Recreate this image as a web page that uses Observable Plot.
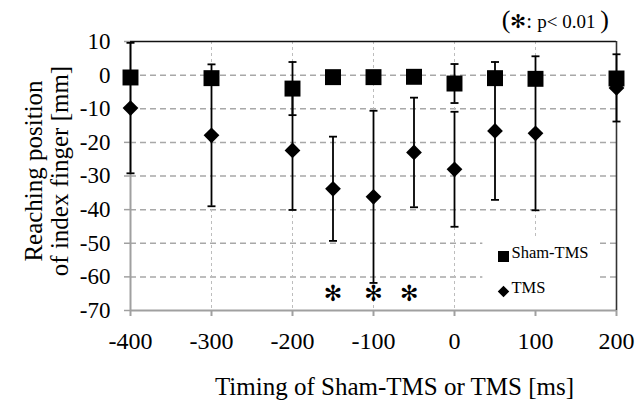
<!DOCTYPE html>
<html>
<head>
<meta charset="utf-8">
<script src="https://cdn.jsdelivr.net/npm/d3@7"></script>
<script src="https://cdn.jsdelivr.net/npm/@observablehq/plot@0.6"></script>
<style>
  html, body { margin: 0; padding: 0; background: #fff; }
  #chart svg { display: block; }
  #chart svg text { font-family: "Liberation Serif", "Times New Roman", Times, serif; }
  #chart svg text.sym, #chart svg tspan.sym { font-family: "DejaVu Sans", sans-serif; }
</style>
</head>
<body>
<div id="chart"></div>
<script>
// ---- data ----
const timing   = [-400, -300, -200, -150, -100, -50, 0, 50, 100, 200];
const shamMean = [-0.7, -0.9, -4.0, -0.6, -0.6, -0.5, -2.5, -0.9, -1.1, -1.0];
const shamSD   = [1.5, 1.5, 7.9, 1.5, 1.5, 1.5, 5.8, 1.5, 1.5, 1.5];
const tmsMean  = [-9.8, -17.9, -22.4, -33.8, -36.2, -23.0, -28.0, -16.6, -17.3, -3.8];
const tmsSD    = [19.4, 21.1, 17.7, 15.5, 25.6, 16.3, 17.1, 20.5, 22.9, 10.0];
const sigTiming = [-150, -100, -56];
const xTicks = [-400, -300, -200, -100, 0, 100, 200];
const yTicks = [10, 0, -10, -20, -30, -40, -50, -60, -70];
const xGrid = [-300, -200, -100, 0, 100];
const yGrid = [0, -10, -20, -30, -40, -50, -60];
const seriesNames = ["Sham-TMS", "TMS"];
const legendBox = [{x1: 35, x2: 180, y1: -70, y2: -48.7}];

const sham = timing.map((t, i) => ({t, m: shamMean[i], lo: shamMean[i] - shamSD[i], hi: shamMean[i] + shamSD[i]}));
const tms  = timing.map((t, i) => ({t, m: tmsMean[i],  lo: tmsMean[i] - tmsSD[i],   hi: tmsMean[i] + tmsSD[i]}));
const bars = [...tms, ...sham];

const cap = {draw(ctx) { ctx.moveTo(-4, 0); ctx.lineTo(4, 0); }};

const plot = Plot.plot({
  width: 644,
  height: 402,
  marginLeft: 130,
  marginRight: 28,
  marginTop: 41,
  marginBottom: 92,
  style: {background: "#fff", color: "#000"},
  x: {domain: [-400, 200]},
  y: {domain: [-70, 10]},
  marks: [
    Plot.ruleY(yGrid, {stroke: "#a8a8a8", strokeWidth: 1.5, strokeDasharray: "6,4"}),
    Plot.ruleX(xGrid, {stroke: "#bdbdbd", strokeWidth: 1, strokeDasharray: "3,3"}),
    Plot.rect(legendBox, {x1: "x1", x2: "x2", y1: "y1", y2: "y2", fill: "#fff"}),
    // frame
    Plot.ruleX([-400], {stroke: "#a0a0a0", strokeWidth: 2}),
    Plot.ruleY([-70], {stroke: "#a0a0a0", strokeWidth: 2}),
    Plot.ruleY([10], {stroke: "#111", strokeWidth: 1.6}),
    Plot.ruleX([200], {stroke: "#333", strokeWidth: 1.6}),
    Plot.axisX({ticks: xTicks, tickFormat: d => String(d), tickSize: 6, tickPadding: 15, stroke: "#a0a0a0", strokeWidth: 2, fontSize: 24, fill: "#000", label: null}),
    Plot.axisY({ticks: yTicks, tickFormat: d => String(d), tickSize: 6, tickPadding: 14, stroke: "#a0a0a0", strokeWidth: 1.5, fontSize: 23, fill: "#000", label: null}),
    // error bars
    Plot.ruleX(bars, {x: "t", y1: "lo", y2: "hi", stroke: "#000", strokeWidth: 1.8}),
    Plot.dot(bars, {x: "t", y: "lo", symbol: cap, stroke: "#000", strokeWidth: 1.8, fill: "none"}),
    Plot.dot(bars, {x: "t", y: "hi", symbol: cap, stroke: "#000", strokeWidth: 1.8, fill: "none"}),
    // markers
    Plot.dot(tms, {x: "t", y: "m", symbol: "diamond2", r: 7.1, fill: "#000", stroke: "none"}),
    Plot.dot(sham, {x: "t", y: "m", symbol: "square", r: 9, fill: "#000", stroke: "none"}),
    // significance
    Plot.text(sigTiming, {x: d => d, frameAnchor: "bottom", dy: -10, text: () => "✻", fontSize: 22, className: "sig", fill: "#000"}),
    // legend
    Plot.text([seriesNames[0]], {frameAnchor: "bottom-right", dx: -105, dy: -53, text: d => d, textAnchor: "start", fontSize: 16.5, fill: "#000"}),
    Plot.text([seriesNames[1]], {frameAnchor: "bottom-right", dx: -105, dy: -18, text: d => d, textAnchor: "start", fontSize: 16.5, fill: "#000"}),
    Plot.dot([seriesNames[0]], {frameAnchor: "bottom-right", dx: -113, dy: -54, symbol: "square", r: 6.2, fill: "#000", stroke: "none"}),
    Plot.dot([seriesNames[1]], {frameAnchor: "bottom-right", dx: -113, dy: -19, symbol: "diamond2", r: 5.2, fill: "#000", stroke: "none"}),
    // axis titles
    Plot.text(["Timing of Sham-TMS or TMS [ms]"], {frameAnchor: "bottom", dx: 21, dy: 84, text: d => d, fontSize: 25, fill: "#000"}),
    Plot.text(["Reaching position\nof index finger [mm]"], {frameAnchor: "left", dx: -84, dy: -5, rotate: -90, textAnchor: "middle", text: d => d, fontSize: 25, lineHeight: 1.05, fill: "#000"})
  ]
});

document.getElementById("chart").appendChild(plot);

const svg = d3.select(plot);
svg.selectAll(".sig text").classed("sym", true);

// p-value note above the frame
const note = svg.append("text")
  .attr("x", 609).attr("y", 28)
  .attr("text-anchor", "end")
  .attr("fill", "#000");
note.append("tspan").attr("font-size", 26).text("(");
note.append("tspan").attr("font-size", 19).attr("class", "sym").text("✻");
note.append("tspan").attr("font-size", 21).text(": ");
note.append("tspan").attr("font-size", 19).text("p< 0.01 ");
note.append("tspan").attr("font-size", 26).text(")");
</script>
</body>
</html>
